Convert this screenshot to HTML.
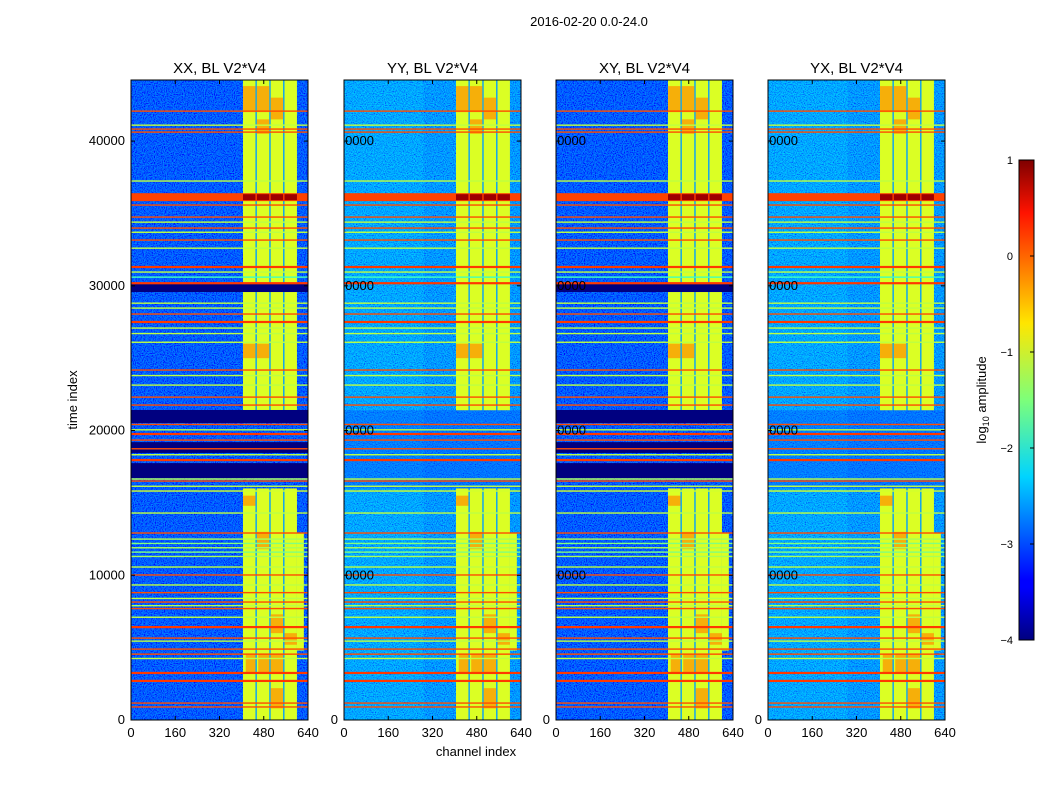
<!DOCTYPE html>
<html><head><meta charset="utf-8"><style>
body{margin:0;background:#fff;}
svg text{font-family:"Liberation Sans",sans-serif;}
</style></head><body>
<svg id="fig" width="1050" height="800" viewBox="0 0 1050 800" xmlns="http://www.w3.org/2000/svg">
<defs>
<filter id="noiseDark" x="0" y="0" width="100%" height="100%">
<feTurbulence type="fractalNoise" baseFrequency="0.9" numOctaves="1" seed="3"/>
<feColorMatrix type="matrix" values="0 0 0 0 0  1.8 0 0 0 -0.6  0 0 0 0 1  0 0 0 0 0.6"/>
</filter>
<filter id="noiseLight" x="0" y="0" width="100%" height="100%">
<feTurbulence type="fractalNoise" baseFrequency="0.9" numOctaves="1" seed="7"/>
<feColorMatrix type="matrix" values="0 0 0 0 0  2.2 0 0 0 -0.55  0 0 0 0 1  0 0 0 0 0.65"/>
</filter>
<linearGradient id="cbGrad" x1="0" y1="1" x2="0" y2="0">
<stop offset="0" stop-color="#00007f"/><stop offset="0.11" stop-color="#0000ff"/>
<stop offset="0.125" stop-color="#0000ff"/><stop offset="0.34" stop-color="#00d4ff"/>
<stop offset="0.5" stop-color="#7dff7a"/><stop offset="0.66" stop-color="#ffe600"/>
<stop offset="0.89" stop-color="#ff1300"/><stop offset="1" stop-color="#7f0000"/>
</linearGradient>
</defs>
<text x="589" y="26" text-anchor="middle" font-size="13">2016-02-20 0.0-24.0</text>
<text x="476" y="756" text-anchor="middle" font-size="13">channel index</text>
<text transform="translate(77,400) rotate(-90)" text-anchor="middle" font-size="13">time index</text>
<g id="panels"></g>
<g id="colorbar">
<rect x="1019" y="160" width="15" height="480" fill="url(#cbGrad)" stroke="#000" stroke-width="1"/>
</g>
<text transform="translate(986,400) rotate(-90)" text-anchor="middle" font-size="13">log<tspan font-size="9" dy="3">10</tspan><tspan dy="-3"> amplitude</tspan></text>
</svg>
<script>
const panelTitles = ["XX, BL V2*V4","YY, BL V2*V4","XY, BL V2*V4","YX, BL V2*V4"];
const panelDark = [true,false,true,false];
const xTicks = [0,160,320,480,640];
const yTicks = [0,10000,20000,30000,40000];
const cbTicks = [1,0,-1,-2,-3,-4];
// horizontal RFI lines: [time index, log10 amplitude]
const hTimes = [42070,41100,40830,40620,37240,35580,34750,34400,33990,33700,33160,32600,31300,30950,30600,30180,28800,28460,28050,27500,27080,26700,26100,24180,23800,23140,22310,21760,20420,20050,19760,19340,18740,18330,17960,16650,16510,16150,15820,14300,12920,12500,12200,11900,11600,11300,10570,10020,9330,8800,8400,8150,7900,7700,7100,6420,5660,5450,4900,4550,4250,3250,2700,1170,900];
const hAmps  = [0,-1.2,0,0,-1.2,0,0,-1.2,0,-1.2,0,-1.2,0.1,-1.2,-1.8,0.1,-1.2,-1.2,0,0.1,-1.2,-1.2,-1.2,0,-1.2,-1.2,0,0,0,-1.2,0.1,0,0,-1.2,0.1,-1.2,0,-1.2,-1.1,-1.2,0,-1.3,-1.5,-1.3,-1.5,-1.3,-1.2,0,-1.2,0,-1.2,0,-1.2,0,-1.2,0.1,0,-1.2,0,0,-1.2,0.1,0.1,0,0];
// navy (flagged/zero) bands in XX/XY
const navyStart = [29570,20520,18450,16720];
const navyEnd   = [30120,21420,19200,17750];
const redBand = [35850,36400];
// bright channel columns
const colStart = [405,455,505,555];
const colEnd   = [450,500,550,600];
const blockT0 = [0,21400];
const blockT1 = [16000,44200];
// orange patches inside block: [ch0,ch1,t0,t1]
const patchCh0 = [405,455,505,455,405,455,505,555,415,460,505,405,455,505];
const patchCh1 = [450,500,550,500,450,500,550,600,450,500,550,450,500,550];
const patchT0  = [42000,42000,41500,40500,25000,25000,6000,5200,3300,3300,3300,14800,11800,800];
const patchT1  = [43800,43800,43000,41500,26000,26000,7300,6000,4600,4600,4600,15500,13000,2200];

const px = [131,344,556,768], PW = 177, PT = 80, PH = 640;
const XMAX = 640, YMAX = 44220;
const NS = "http://www.w3.org/2000/svg";
function jet(v){ let t=(v+4)/5; t=Math.max(0,Math.min(1,t));
  const f=(a)=>Math.round(255*Math.max(0,Math.min(1,1.5-Math.abs(4*t-a))));
  return `rgb(${f(3)},${f(2)},${f(1)})`; }
function mk(tag,attrs,parent){const e=document.createElementNS(NS,tag);for(const k in attrs)e.setAttribute(k,attrs[k]);parent.appendChild(e);return e;}
const root=document.getElementById('panels');
panelTitles.forEach((title,p)=>{
  const x0=px[p];
  const sx=c=>x0+c/XMAX*PW;
  const sy=t=>PT+PH-t/YMAX*PH;
  const g=mk('g',{},root);
  
  
  const cp=mk('clipPath',{id:'clip'+p},g); mk('rect',{x:x0,y:PT,width:PW,height:PH},cp);
  const img=mk('g',{'clip-path':`url(#clip${p})`},g);
  
  
  mk('rect',{x:x0,y:PT,width:PW,height:PH,fill:panelDark[p]?jet(-3.3):jet(-3.0)},img);
  if(!panelDark[p]){ mk('rect',{x:x0,y:PT,width:PW*0.45,height:PH,fill:jet(-2.3),opacity:0.3},img); }
  mk('rect',{x:x0,y:PT,width:PW,height:PH,filter:panelDark[p]?'url(#noiseDark)':'url(#noiseLight)'},img);
  blockT0.forEach((b0,bi)=>{
    const b1=blockT1[bi];
    mk('rect',{x:sx(colStart[0]),y:sy(b1),width:sx(colEnd[colEnd.length-1])-sx(colStart[0]),height:sy(b0)-sy(b1),fill:jet(-2.6)},img);
    colStart.forEach((c0,ci)=>{
      const r=mk('rect',{x:sx(c0),y:sy(b1),width:sx(colEnd[ci])-sx(c0),height:sy(b0)-sy(b1),fill:jet(-1.05)},img);
      
      
    });
  });
  mk('rect',{x:sx(600),y:sy(12900),width:sx(625)-sx(600),height:sy(4800)-sy(12900),fill:jet(-1.05)},img);
  patchCh0.forEach((c0,i)=>{
    mk('rect',{x:sx(c0),y:sy(patchT1[i]),width:sx(patchCh1[i])-sx(c0),height:sy(patchT0[i])-sy(patchT1[i]),fill:jet(-0.35),opacity:0.75},img);
  });
  if(panelDark[p]) navyStart.forEach((n0,i)=>{
    const r=mk('rect',{x:x0,y:sy(navyEnd[i]),width:PW,height:sy(n0)-sy(navyEnd[i]),fill:jet(-4)},img);
    
    
  });
  else { mk('rect',{x:x0,y:sy(21400),width:PW,height:sy(16000)-sy(21400),fill:jet(-3.2),opacity:0.3},img); }
  hTimes.forEach((t,i)=>{
    const thick = hAmps[i]>0.05?2.2:1.4;
    const r=mk('rect',{x:x0,y:sy(t)-thick/2,width:PW,height:thick,fill:jet(hAmps[i])},img);
    
    
  });
  mk('rect',{x:x0,y:sy(redBand[1]),width:PW,height:sy(redBand[0])-sy(redBand[1]),fill:jet(0.05)},img);
  colStart.forEach((c0,ci)=>{
    mk('rect',{x:sx(c0),y:sy(redBand[1])+1,width:sx(colEnd[ci])-sx(c0),height:sy(redBand[0])-sy(redBand[1])-2,fill:jet(0.85)},img);
  });
  yTicks.forEach(v=>{
    const y=sy(v);
    if(p===0){
      const tx=mk('text',{x:x0-6,y:y+4,'text-anchor':'end','font-size':13},g); tx.textContent=v;
       
    } else if(v===0){
      const t0=mk('text',{x:x0-6,y:y+4,'text-anchor':'end','font-size':13},g); t0.textContent=v;
       
    } else {
      const tx=mk('text',{x:x0+30,y:y+4,'text-anchor':'end','font-size':13,'clip-path':`url(#clip${p})`},g); tx.textContent=v;
       
    }
    mk('line',{x1:x0,x2:x0+4,y1:y,y2:y,stroke:'#000'},g);
    mk('line',{x1:x0+PW-4,x2:x0+PW,y1:y,y2:y,stroke:'#000'},g);
  });
  xTicks.forEach(v=>{
    const x=sx(v);
    mk('line',{x1:x,x2:x,y1:PT+PH,y2:PT+PH-4,stroke:'#000'},g);
    mk('line',{x1:x,x2:x,y1:PT,y2:PT+4,stroke:'#000'},g);
    const tx=mk('text',{x:x,y:PT+PH+17,'text-anchor':'middle','font-size':13},g); tx.textContent=v;
     
  });
  mk('rect',{x:x0,y:PT,width:PW,height:PH,fill:'none',stroke:'#000','stroke-width':1},g);
  const tt=mk('text',{x:x0+PW/2,y:PT-7,'text-anchor':'middle','font-size':15},g); tt.textContent=title;
   
});
const cb=document.getElementById('colorbar');
cbTicks.forEach(v=>{
  const y=160+(1-v)/5*480;
  mk('line',{x1:1030,x2:1034,y1:y,y2:y,stroke:'#000'},cb);
  const tx=mk('text',{x:1013,y:y+4,'text-anchor':'end','font-size':11},cb);
  tx.textContent=v<0?'\u2212'+(-v):v;
  
  
});
</script>
</body></html>
